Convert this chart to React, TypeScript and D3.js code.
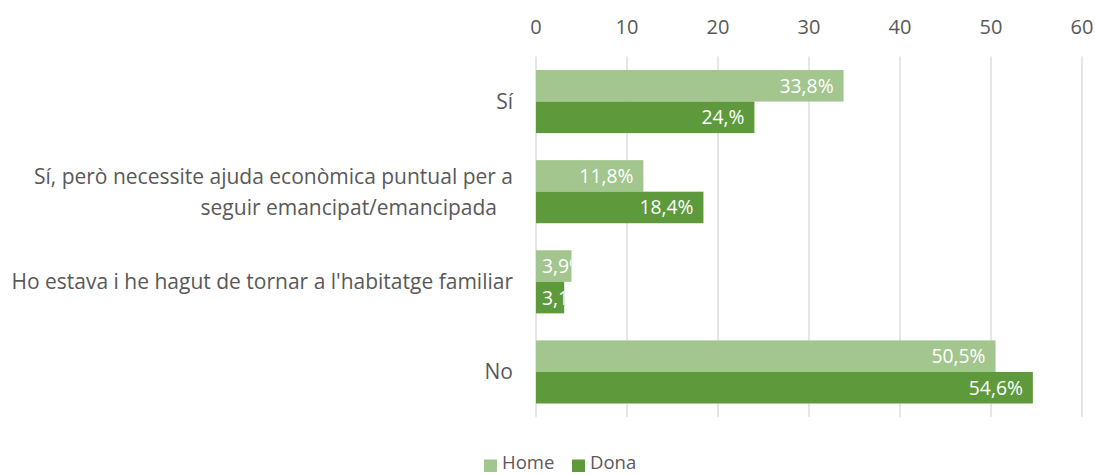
import React from "react";
import * as d3 from "d3";

const categories = [
  ["Sí"],
  ["Sí, però necessite ajuda econòmica puntual per a", "seguir emancipat/emancipada"],
  ["Ho estava i he hagut de tornar a l'habitatge familiar"],
  ["No"],
];
const homeValues = [33.8, 11.8, 3.9, 50.5];
const donaValues = [24.0, 18.4, 3.1, 54.6];
const homeLabels = ["33,8%", "11,8%", "3,9%", "50,5%"];
const donaLabels = ["24,%", "18,4%", "3,1%", "54,6%"];
const xTicks = [0, 10, 20, 30, 40, 50, 60];
const seriesNames = ["Home", "Dona"];

const W = 1095;
const H = 475;
const FONT = "'Open Sans', sans-serif";
const HOME_COLOR = "#A2C68E";
const DONA_COLOR = "#5E9A3B";
const TEXT = "#595959";

export default function App() {
  const x = d3.scaleLinear().domain([0, 60]).range([536, 1082]);
  const y = d3
    .scaleBand<number>()
    .domain(d3.range(categories.length))
    .range([56.5, 417])
    .paddingInner(0.3)
    .paddingOuter(0.15);
  const inner = d3.scaleBand<number>().domain([0, 1]).range([0, y.bandwidth()]);
  const series = [
    { name: seriesNames[0], values: homeValues, labels: homeLabels, color: HOME_COLOR },
    { name: seriesNames[1], values: donaValues, labels: donaLabels, color: DONA_COLOR },
  ];
  const labelFs = 19.3;
  const approxWidth = (s: string) => {
    let w = 0;
    for (const c of s) w += c === "," ? 0.26 : c === "%" ? 0.82 : 0.572;
    return w * labelFs;
  };
  return (
    <svg
      width={W}
      height={H}
      style={{ position: "absolute", left: 0, top: 0, background: "#fff" }}
      fontFamily={FONT}
    >
      <defs>
        {series.map((s, si) =>
          s.values.map((v, i) => (
            <clipPath id={`clip-${si}-${i}`} key={`${si}-${i}`}>
              <rect
                x={x(0)}
                y={(y(i) ?? 0) + (inner(si) ?? 0)}
                width={x(v) - x(0)}
                height={inner.bandwidth()}
              />
            </clipPath>
          ))
        )}
      </defs>
      {xTicks.map((t) => (
        <g key={t}>
          <line x1={x(t)} x2={x(t)} y1={56.5} y2={417} stroke="#D9D9D9" strokeWidth={1.3} />
          <text x={x(t)} y={33.5} textAnchor="middle" fontSize={20} fill={TEXT}>
            {t}
          </text>
        </g>
      ))}
      {series.map((s, si) =>
        s.values.map((v, i) => {
          const by = (y(i) ?? 0) + (inner(si) ?? 0);
          const bw = x(v) - x(0);
          const tw = approxWidth(s.labels[i]);
          const tx = Math.max(x(v) - 10, x(0) + 6 + tw);
          return (
            <g key={`${si}-${i}`}>
              <rect x={x(0)} y={by} width={bw} height={inner.bandwidth()} fill={s.color} />
              <g clipPath={`url(#clip-${si}-${i})`}>
                <text
                  x={tx}
                  y={by + inner.bandwidth() / 2}
                  dy="0.36em"
                  textAnchor="end"
                  fontSize={labelFs}
                  fill="#fff"
                >
                  {s.labels[i]}
                </text>
              </g>
            </g>
          );
        })
      )}
      {categories.map((lines, i) => {
        const cy = (y(i) ?? 0) + y.bandwidth() / 2;
        const lh = 31;
        return (
          <text key={i} fontSize={21} fill={TEXT} textAnchor="end">
            {lines.map((ln, li) => (
              <tspan
                key={li}
                x={li === 0 ? 513 : 497}
                y={cy + (li - (lines.length - 1) / 2) * lh}
                dy="0.36em"
              >
                {ln}
              </tspan>
            ))}
          </text>
        );
      })}
      <g>
        <rect x={484} y={459.5} width={13} height={12.5} fill={HOME_COLOR} />
        <text x={502} y={469} fontSize={18.5} fill={TEXT}>
          {seriesNames[0]}
        </text>
        <rect x={572} y={459.5} width={13} height={12.5} fill={DONA_COLOR} />
        <text x={590} y={469} fontSize={18.5} fill={TEXT}>
          {seriesNames[1]}
        </text>
      </g>
    </svg>
  );
}
